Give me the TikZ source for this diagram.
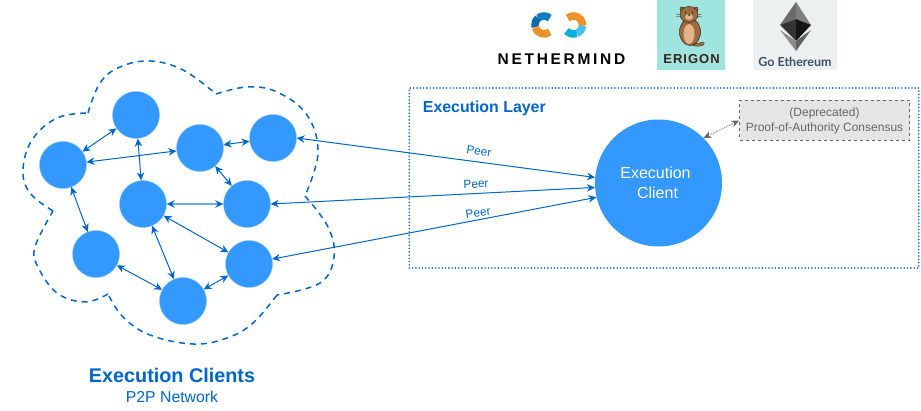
\documentclass[tikz,border=0pt]{standalone}
\usepackage{fontspec}
\setmainfont{Liberation Sans}
\newfontfamily\latofont{Lato}
\usetikzlibrary{arrows.meta}
\definecolor{nodeblue}{HTML}{3399FF}
\definecolor{lineblue}{HTML}{0066CC}
\definecolor{greyline}{HTML}{666666}
\definecolor{erigonbg}{HTML}{A0E4E0}
\definecolor{otter}{HTML}{9C6B3F}
\definecolor{otterbelly}{HTML}{E2B48C}
\definecolor{otterdark}{HTML}{3A2418}
\definecolor{gethbg}{HTML}{ECF0F1}
\definecolor{gethtext}{HTML}{3F4F66}
\definecolor{nmorange}{HTML}{EE9128}
\definecolor{nmblue}{HTML}{0F7FC4}
\definecolor{nmdark}{HTML}{0B6CAD}
\definecolor{nmcyan}{HTML}{08AEE0}
\definecolor{nmlight}{HTML}{45C2E6}
\tikzset{
  peer/.style={circle,fill=nodeblue,draw=nodeblue!60!white,line width=.4pt,minimum size=47pt,inner sep=0pt},
  link/.style={lineblue,line width=1pt,{Stealth[length=8pt,width=7.5pt,color=lineblue]}-{Stealth[length=8pt,width=7.5pt,color=lineblue]}},
  peerlabel/.style={font=\fontsize{11.8}{13}\selectfont,text=lineblue,inner sep=0pt},
  cloudline/.style={lineblue,line width=1.5pt,dash pattern=on 6pt off 5pt},
}
\begin{document}
\begin{tikzpicture}[x=1pt,y=-1pt]
\useasboundingbox (0,0) rectangle (921,411);
% cloud
\draw[cloudline] plot[smooth,tension=.65] coordinates {(88,113) (100,83) (120,67) (150,61) (183,70) (216,94)};
\draw[cloudline] plot[smooth,tension=.65] coordinates {(216,94) (247,87) (277,92) (307,115) (318,153) (305,196)};
\draw[cloudline] plot[smooth,tension=.65] coordinates {(305,196) (328,227) (334,257) (320,283) (277,295)};
\draw[cloudline] plot[smooth,tension=.65] coordinates {(277,295) (253,323) (227,338) (193,344) (150,335) (123,317) (108,294)};
\draw[cloudline] plot[smooth,tension=.65] coordinates {(108,294) (85,302) (57,293) (38,267) (35,247) (53,211)};
\draw[cloudline] plot[smooth,tension=.65] coordinates {(53,211) (30,193) (23,170) (32,140) (57,118) (88,113)};
% nodes
\node[peer] (a) at (136,115) {};
\node[peer] (b) at (63,165) {};
\node[peer] (c) at (200,148) {};
\node[peer] (d) at (273,138) {};
\node[peer] (e) at (143,204) {};
\node[peer] (f) at (247,204) {};
\node[peer] (g) at (96,254) {};
\node[peer] (h) at (249,264) {};
\node[peer] (i) at (183,301) {};
% layer
\node[draw=lineblue,line width=1.8pt,line cap=round,dash pattern=on 0pt off 3.3pt,minimum width=509.5pt,minimum height=180pt,inner sep=0pt] (layer) at (664,178) {};
\node[font=\bfseries\fontsize{15.9}{18}\selectfont,text=lineblue,inner sep=0pt,anchor=west] (layertitle) at (422.7,108) {Execution Layer};
\node[circle,fill=nodeblue,minimum size=127pt,inner sep=0pt,font=\fontsize{16}{20}\selectfont,text=white,align=center] (client) at (658.5,183) {Execution\kern6pt\\Client\kern2pt};
% links
\draw[link] (a) -- (b);
\draw[link] (a) -- (e);
\draw[link] (b) -- (c);
\draw[link] (b) -- (g);
\draw[link] (c) -- (d);
\draw[link] (c) -- (f);
\draw[link,draw=lineblue!55,line width=1.6pt] (e) -- (f);
\draw[link] (e) -- (h);
\draw[link] (e) -- (i);
\draw[link] (g) -- (i);
\draw[link] (h) -- (i);
\draw[link] (d.east) -- (client.175);
\draw[link] (f.east) -- (client.184);
\draw[link] (h.12) -- (client.193);
\node[peerlabel,rotate=-8] (p1) at (479,151) {Peer};
\node[peerlabel,rotate=2] (p2) at (476,184) {Peer};
\node[peerlabel,rotate=8] (p3) at (478,213) {Peer};
% deprecated box
\node[draw=greyline,fill=black!10,dashed,line width=.7pt,minimum width=170pt,minimum height=40pt,inner sep=0pt,align=center,text=greyline,font=\fontsize{12}{15}\selectfont] (poa) at (824.5,120.5) {(Deprecated)\\Proof-of-Authority Consensus};
\draw[greyline,line width=.8pt,densely dotted,{Stealth[length=8pt,width=7pt,color=greyline]}-{Stealth[length=8pt,width=7pt,color=greyline]}] (client.45) -- (poa.west);
% bottom labels
\node[font=\bfseries\fontsize{19.8}{22}\selectfont,text=lineblue,inner sep=0pt] (t1) at (172,375.5) {Execution Clients};
\node[font=\fontsize{15.8}{18}\selectfont,text=lineblue,inner sep=0pt] (t2) at (172,396.5) {P2P Network};
% Nethermind logo
\node[font=\bfseries\fontsize{15.5}{17}\selectfont,inner sep=0pt] (nm) at (561.5,59.5) {N\kern2.7pt E\kern2.7pt T\kern2.7pt H\kern2.7pt E\kern2.7pt R\kern2.7pt M\kern2.7pt I\kern2.7pt N\kern2.7pt D};
\begin{scope}[line width=7.5pt]
 \draw[nmblue] (544,25) ++(-50:9) arc[start angle=-50,end angle=-130,radius=9];
 \draw[nmdark] (544,25) ++(-130:9) arc[start angle=-130,end angle=-195,radius=9];
 \draw[nmorange] (544,25) ++(-195:9) arc[start angle=-195,end angle=-310,radius=9];
 \draw[nmorange] (573.5,25) ++(-130:9) arc[start angle=-130,end angle=5,radius=9];
 \draw[nmlight] (573.5,25) ++(5:9) arc[start angle=5,end angle=70,radius=9];
 \draw[nmcyan] (573.5,25) ++(70:9) arc[start angle=70,end angle=140,radius=9];
\end{scope}
% Erigon logo
\fill[erigonbg] (656.7,0) rectangle (725.3,70);
\draw[otterdark,line width=.3pt] (676,14) -- (683,15) (676,17) -- (683,16) (702,14) -- (695,15) (702,17) -- (695,16);
\draw[otterdark,line width=3.4pt,line cap=round] (692,43.5) .. controls (698,46) and (701,44) .. (703,43.5);
\draw[otter,line width=2.4pt,line cap=round] (692,43.5) .. controls (698,46) and (701,44) .. (703,43.5);
\fill[otter,draw=otterdark,line width=.5pt] (690,32) ellipse[x radius=10.5pt,y radius=13.5pt];
\fill[otter,draw=otterdark,line width=.5pt] (682,9) circle[radius=2pt] (696,9) circle[radius=2pt];
\fill[otter,draw=otterdark,line width=.5pt] (689,14.5) ellipse[x radius=9pt,y radius=8pt];
\fill[otterbelly] (689,34) ellipse[x radius=5.5pt,y radius=10pt];
\fill[otterbelly] (689,17) ellipse[x radius=4pt,y radius=3pt];
\fill[otterdark] (685.5,12.5) circle[radius=.9pt] (692.5,12.5) circle[radius=.9pt] (689,15) circle[radius=1pt];
\node[font=\bfseries\fontsize{13}{15}\selectfont,text=otterdark,inner sep=0pt] (eg) at (691.5,58.7) {E\kern1pt R\kern1pt I\kern1pt G\kern1pt O\kern1pt N};
% Go Ethereum logo
\fill[gethbg] (752.7,0) rectangle (837,70);
\fill[black!50] (796,2) -- (811,25) -- (796,19) -- cycle;
\fill[black!58] (796,2) -- (780,25) -- (796,19) -- cycle;
\fill[black!80] (780,25) -- (796,19) -- (796,41) -- cycle;
\fill[black!92] (811,25) -- (796,19) -- (796,41) -- cycle;
\fill[black!45] (780,30) -- (796,41) -- (796,51) -- cycle;
\fill[black!62] (811,30) -- (796,41) -- (796,51) -- cycle;
\node[font=\latofont\bfseries\fontsize{12.5}{14}\selectfont,text=gethtext,inner sep=0pt] (ge) at (795,62) {Go Ethereum};
\end{tikzpicture}
\end{document}
